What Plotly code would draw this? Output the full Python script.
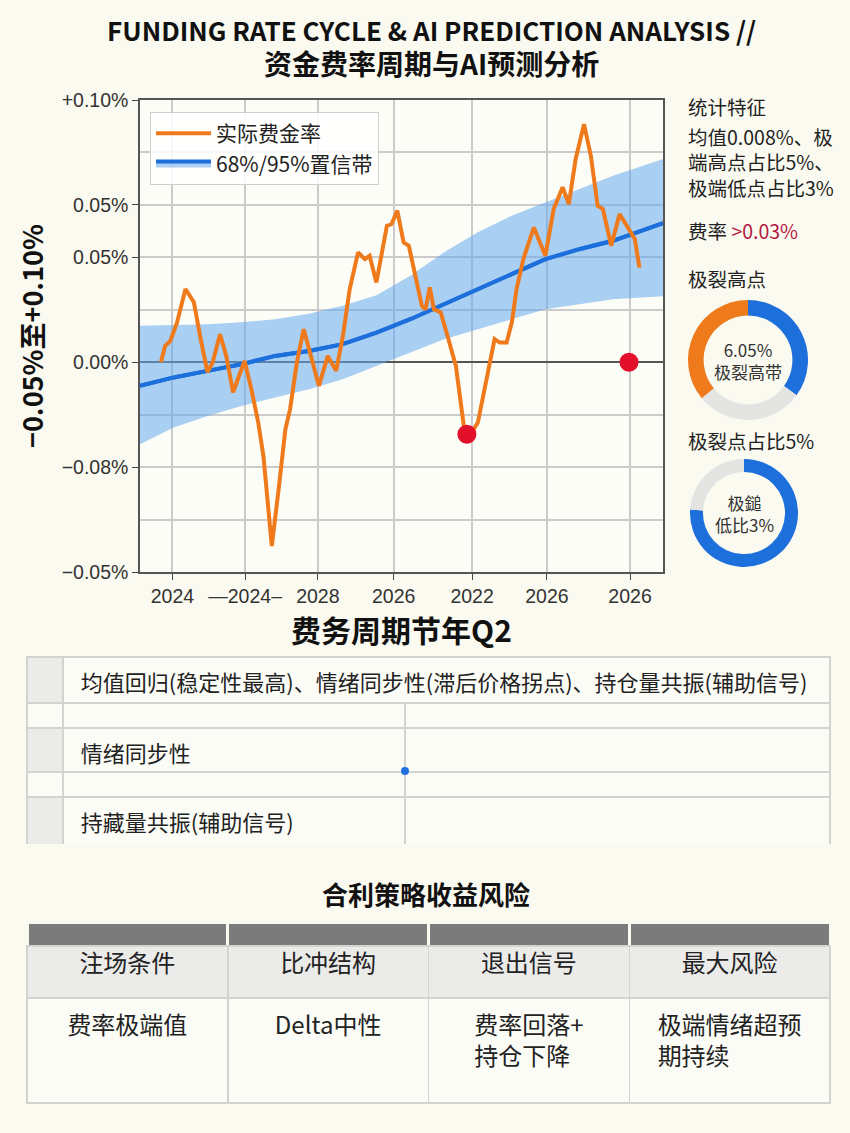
import plotly.graph_objects as go

W, H = 850, 1133

# ---------------- data ----------------
rate_t = [4.0, 4.8, 5.8, 7.1, 8.7, 10.3, 11.6, 12.9, 13.9, 15.3, 16.5, 17.8, 18.7, 20.0, 21.3,
          22.6, 23.6, 25.2, 26.5, 27.8, 28.7, 30.0, 31.3, 32.6, 34.2, 35.9, 37.5, 38.8, 40.1, 41.7,
          43.0, 43.9, 45.2, 47.2, 48.1, 49.2, 50.4, 51.4, 52.3, 53.9, 54.6, 55.4, 56.2, 57.5, 58.8,
          60.4, 62.0, 63.0, 64.6, 66.2, 67.8, 68.8, 70.1, 71.1, 72.0, 73.3, 75.3, 77.5, 79.1, 80.8,
          82.0, 83.3, 84.9, 86.2, 87.5, 88.5, 90.1, 91.7, 93.0, 94.6, 95.5]
rate_v = [0.000, 0.0062, 0.0081, 0.0153, 0.0279, 0.0229, 0.0088, -0.0038, 0.000, 0.0107, 0.0023,
          -0.0115, -0.0065, 0.0005, -0.0103, -0.0229, -0.0358, -0.0701, -0.0485, -0.0256, -0.0179,
          0.000, 0.0126, 0.0024, -0.0090, 0.0024, -0.0033, 0.0100, 0.0279, 0.0419, 0.0393, 0.0406,
          0.0304, 0.0520, 0.0527, 0.0578, 0.0457, 0.0444, 0.0355, 0.0215, 0.0202, 0.0285, 0.0202,
          0.0190, 0.0100, -0.0014, -0.0256, -0.0281, -0.0230, -0.0077, 0.0088, 0.0075, 0.0075,
          0.0152, 0.0279, 0.0393, 0.0514, 0.0406, 0.0584, 0.0667, 0.0603, 0.0775, 0.0908, 0.0787,
          0.0597, 0.0584, 0.0444, 0.0565, 0.0520, 0.0470, 0.0361]

trend_t = [0, 6.46, 12.92, 19.38, 25.84, 32.30, 38.76, 45.22, 51.68, 58.14, 64.60, 71.06,
           77.52, 83.98, 90.44, 100]
trend_v = [-0.0090, -0.0058, -0.0033, -0.0008, 0.0024, 0.0043, 0.0069, 0.0113, 0.0164, 0.0221,
           0.0279, 0.0336, 0.0393, 0.0431, 0.0463, 0.0530]
band_upper = [0.0139, 0.0142, 0.0145, 0.0152, 0.0164, 0.0185, 0.0215, 0.0255, 0.0330, 0.0419,
              0.0496, 0.0559, 0.0610, 0.0660, 0.0711, 0.0775]
band_lower = [-0.0313, -0.0249, -0.0205, -0.0167, -0.0135, -0.0103, -0.0065, -0.0014, 0.0037,
              0.0088, 0.0126, 0.0164, 0.0202, 0.0221, 0.0240, 0.0252]

extreme_t = [62.5, 93.5]
extreme_v = [-0.0275, 0.0]

x_tickvals = [6.2, 20.1, 34.0, 48.5, 63.5, 77.8, 93.7]
x_ticktext = ["2024", "—2024–", "2028", "2026", "2022", "2026", "2026"]
y_tickvals = [0.10, 0.06, 0.04, 0.00, -0.04, -0.08]
y_ticktext = ["+0.10%", "0.05%", "0.05%", "0.00%", "−0.08%", "−0.05%"]

donut1_labels = ["高带内", "常态", "极端高带"]
donut1_values = [35, 29, 36]
donut2_labels = ["低比外", "极端低比"]
donut2_values = [76, 24]

stats_title = "统计特征"
stats_lines = ["均值0.008%、极", "端高点占比5%、", "极端低点占比3%"]

factor_rows = [
    ["", "均值回归(稳定性最高)、情绪同步性(滞后价格拐点)、持仓量共振(辅助信号)"],
    ["", "", ""],
    ["", "情绪同步性", ""],
    ["", "", ""],
    ["", "持藏量共振(辅助信号)", ""],
]
strategy_head = ["注场条件", "比冲结构", "退出信号", "最大风险"]
strategy_body = ["费率极端值<br>&nbsp;", "Delta中性<br>&nbsp;", "费率回落+<br>持仓下降",
                 "极端情绪超预<br>期持续"]

# ---------------- style ----------------
BG = "#fbfaf0"
PLOTBG = "#fdfdf7"
GRID = "#cbcbcb"
ORANGE = "#ef7a1c"
BLUE = "#1d6fdc"
BAND = "rgba(100,170,240,0.55)"
RED = "#e3102c"
RING_GRAY = "#e4e4e2"
CJK = "Noto Sans CJK SC"
TXT = "#222222"
STUB = "#ebebea"
CELL = "#fcfcf7"
LINE = "#d3d3d0"


def fx(px):
    return px / W


def fy(py):
    return 1 - py / H


fig = go.Figure()

fig.add_trace(go.Scatter(x=trend_t, y=band_lower, mode="lines", line=dict(width=0),
                         showlegend=False, hoverinfo="skip"))
fig.add_trace(go.Scatter(x=trend_t, y=trend_v, mode="lines", line=dict(color=BLUE, width=4),
                         fill="tonexty", fillcolor=BAND, name="68%/95%置信带", legendrank=2))
fig.add_trace(go.Scatter(x=trend_t, y=band_upper, mode="lines", line=dict(width=0),
                         fill="tonexty", fillcolor=BAND, showlegend=False, hoverinfo="skip"))
fig.add_trace(go.Scatter(x=trend_t, y=trend_v, mode="lines", line=dict(color=BLUE, width=4),
                         showlegend=False))
fig.add_trace(go.Scatter(x=rate_t, y=rate_v, mode="lines", line=dict(color=ORANGE, width=4),
                         name="实际费金率", legendrank=1))
fig.add_trace(go.Scatter(x=extreme_t, y=extreme_v, mode="markers",
                         marker=dict(color=RED, size=19), showlegend=False))

# donuts
fig.add_trace(go.Pie(labels=donut1_labels, values=donut1_values, hole=0.74, sort=False,
                     direction="clockwise", rotation=0, textinfo="none", showlegend=False,
                     marker=dict(colors=[BLUE, RING_GRAY, ORANGE], line=dict(width=0)),
                     domain=dict(x=[fx(688), fx(808)], y=[fy(420), fy(300)])))
fig.add_trace(go.Pie(labels=donut2_labels, values=donut2_values, hole=0.76, sort=False,
                     direction="clockwise", rotation=0, textinfo="none", showlegend=False,
                     marker=dict(colors=[BLUE, RING_GRAY], line=dict(width=0)),
                     domain=dict(x=[fx(690), fx(798)], y=[fy(567), fy(459)])))

# upper factor table: one header-only table per row
row_bounds = [(657, 703), (703, 728), (728, 772), (772, 797), (797, 840)]
for i, (row, (top, bot)) in enumerate(zip(factor_rows, row_bounds)):
    stub_fill = STUB if i % 2 == 0 else CELL
    vals = [v if v == "" else "&nbsp;&nbsp;" + v for v in row]
    cw = [36, 767] if len(row) == 2 else [36, 342, 425]
    fig.add_trace(go.Table(
        columnwidth=cw,
        header=dict(values=vals, height=bot - top, align="left",
                    fill=dict(color=[stub_fill] + [CELL] * (len(row) - 1)),
                    line=dict(color=LINE, width=1.5),
                    font=dict(family=CJK, size=22, color=TXT)),
        cells=dict(values=[[] for _ in row]),
        domain=dict(x=[fx(27), fx(830)], y=[fy(bot + 4), fy(top)]),
    ))

# strategy table: dark strip, label row, body row (header-only tables)
strategy_rows = [
    (["", "", "", ""], "#7b7b7b", BG, 3, 922, 946, 2),
    (strategy_head, STUB, LINE, 1.5, 946, 998, 24),
    (strategy_body, CELL, LINE, 1.5, 998, 1103, 24),
]
for vals, fill, lcol, lw, top, bot, fsize in strategy_rows:
    fig.add_trace(go.Table(
        columnwidth=[1, 1, 1, 1],
        header=dict(values=vals, height=bot - top, align="center",
                    fill=dict(color=fill), line=dict(color=lcol, width=lw),
                    font=dict(family=CJK, size=fsize, color=TXT)),
        cells=dict(values=[[], [], [], []]),
        domain=dict(x=[fx(27), fx(830)], y=[fy(bot + 4), fy(top)]),
    ))

# ---------------- annotations ----------------
ann = []
ann.append(dict(text="<b>FUNDING RATE CYCLE & AI PREDICTION ANALYSIS //</b><br>"
                     "<b><span style='font-size:28px'>资金费率周期与AI预测分析</span></b>",
                x=fx(431), y=fy(47), xref="paper", yref="paper", showarrow=False,
                xanchor="center", yanchor="middle", align="center",
                font=dict(family=CJK, size=26, color="#111")))
ann.append(dict(text=stats_title, x=fx(686), y=fy(107), xref="paper", yref="paper",
                showarrow=False, xanchor="left", yanchor="middle",
                font=dict(family=CJK, size=19.5, color=TXT)))
ann.append(dict(text="<br>".join(stats_lines), x=fx(686), y=fy(162), xref="paper", yref="paper",
                showarrow=False, xanchor="left", yanchor="middle", align="left",
                font=dict(family=CJK, size=19.5, color=TXT)))
ann.append(dict(text="费率 <span style='color:#b3173f'>&gt;0.03%</span>", x=fx(686), y=fy(230),
                xref="paper", yref="paper", showarrow=False, xanchor="left", yanchor="middle",
                font=dict(family=CJK, size=19.5, color=TXT)))
ann.append(dict(text="极裂高点", x=fx(686), y=fy(279), xref="paper", yref="paper", showarrow=False,
                xanchor="left", yanchor="middle", font=dict(family=CJK, size=19.5, color=TXT)))
ann.append(dict(text="极裂点占比5%", x=fx(686), y=fy(440), xref="paper", yref="paper",
                showarrow=False, xanchor="left", yanchor="middle",
                font=dict(family=CJK, size=19.5, color=TXT)))
ann.append(dict(text="6.05%<br>极裂高带", x=fx(748), y=fy(360), xref="paper", yref="paper",
                showarrow=False, xanchor="center", yanchor="middle",
                font=dict(family=CJK, size=17, color="#333")))
ann.append(dict(text="极鎚<br>低比3%", x=fx(744), y=fy(513), xref="paper", yref="paper",
                showarrow=False, xanchor="center", yanchor="middle",
                font=dict(family=CJK, size=17, color="#333")))
ann.append(dict(text="<b>合利策略收益风险</b>", x=fx(426), y=fy(893), xref="paper", yref="paper",
                showarrow=False, xanchor="center", yanchor="middle",
                font=dict(family=CJK, size=26, color="#111")))

shapes = [dict(type="circle", xref="paper", yref="paper", x0=fx(401), x1=fx(409),
               y0=fy(775), y1=fy(767), fillcolor="#1f6fe0", line=dict(width=0))]

TICKFONT = dict(family="Liberation Sans", size=19.5, color="#333")
fig.update_layout(
    width=W, height=H, margin=dict(l=0, r=0, t=0, b=0, autoexpand=False),
    paper_bgcolor=BG, plot_bgcolor=PLOTBG,
    font=dict(family=CJK, color=TXT),
    annotations=ann, shapes=shapes,
    legend=dict(x=fx(150), y=fy(112), xanchor="left", yanchor="top", traceorder="normal",
                bgcolor="rgba(255,255,255,0.85)", bordercolor="#cfcfcf", borderwidth=1,
                font=dict(family=CJK, size=21, color=TXT), itemwidth=55),
    xaxis=dict(domain=[fx(140), fx(663)], range=[0, 100], tickvals=x_tickvals,
               ticktext=x_ticktext, showgrid=True, gridcolor=GRID, gridwidth=1.5,
               ticks="outside", ticklen=6, tickcolor="#444", showline=True,
               linecolor="#555", linewidth=1.5, mirror=True, zeroline=False,
               tickfont=TICKFONT, automargin=False,
               title=dict(text="<b>费务周期节年Q2</b>", standoff=2,
                          font=dict(family=CJK, size=30, color="#111"))),
    yaxis=dict(domain=[fy(572), fy(100)], range=[-0.08, 0.10], tickvals=y_tickvals,
               ticktext=y_ticktext, showgrid=True, gridcolor=GRID, gridwidth=1.5,
               minor=dict(dtick=0.02, tick0=0, showgrid=True, gridcolor=GRID, gridwidth=1.5),
               ticks="outside", ticklen=6, tickcolor="#444", showline=True,
               linecolor="#555", linewidth=1.5, mirror=True,
               zeroline=True, zerolinecolor="#555", zerolinewidth=2,
               tickfont=TICKFONT, automargin=False,
               title=dict(text="<b>−0.05%至+0.10%</b>", standoff=10,
                          font=dict(family=CJK, size=27, color="#111"))),
)

fig.write_html("out.html", config={"displayModeBar": False},
               post_script="document.body.style.margin='0';"
                           "document.body.style.background='#fbfaf0';"
                           "document.body.style.overflow='hidden';")
